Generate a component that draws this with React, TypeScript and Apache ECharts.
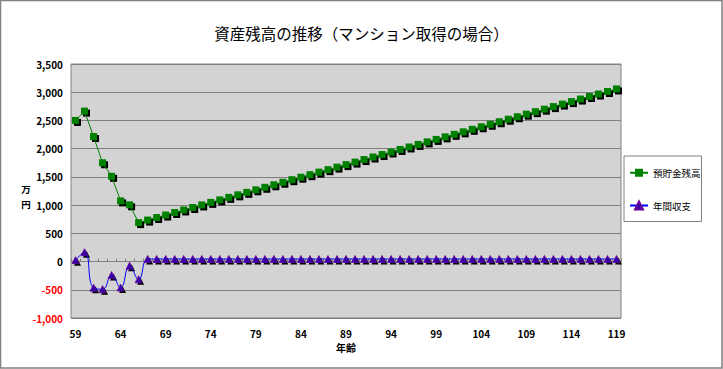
import React, { useEffect, useRef } from "react";
import * as echarts from "echarts";

const ages: string[] = [];
for (let a = 59; a <= 119; a++) ages.push(String(a));

const savingsBalance = [
  2500, 2665, 2215, 1750, 1510, 1075, 1005, 690, 735, 780,
  824, 869, 914, 958, 1003, 1048, 1092, 1137, 1182, 1226,
  1271, 1316, 1360, 1405, 1450, 1494, 1539, 1584, 1628, 1673,
  1718, 1762, 1807, 1852, 1896, 1941, 1986, 2030, 2075, 2120,
  2164, 2209, 2254, 2298, 2343, 2388, 2432, 2477, 2522, 2566,
  2611, 2656, 2700, 2745, 2790, 2834, 2879, 2924, 2968, 3013,
  3058,
];

const annualBalance = [
  25, 165, -465, -490, -240, -460, -75, -315, 45, 45,
  45, 45, 45, 45, 45, 45, 45, 45, 45, 45,
  45, 45, 45, 45, 45, 45, 45, 45, 45, 45,
  45, 45, 45, 45, 45, 45, 45, 45, 45, 45,
  45, 45, 45, 45, 45, 45, 45, 45, 45, 45,
  45, 45, 45, 45, 45, 45, 45, 45, 45, 45,
  45,
];

const titleText = "資産残高の推移（マンション取得の場合）";
const seriesNames = ["預貯金残高", "年間収支"];
const unitChars = ["万", "円"];
const font = "'Noto Sans CJK JP', sans-serif";

export default function App() {
  const ref = useRef<HTMLDivElement>(null);
  useEffect(() => {
    if (!ref.current) return;
    const chart = echarts.init(ref.current, undefined, { renderer: "svg" });
    const shadowSeries = (data: number[], symbol: string, size: number) => ({
      name: "_shadow_" + symbol,
      type: "line",
      xAxisIndex: 0,
      data,
      showAllSymbol: true,
      symbol,
      symbolSize: size,
      symbolOffset: [2, 2],
      lineStyle: { width: 0, opacity: 0 },
      itemStyle: { color: "#000" },
      silent: true,
      z: 2,
    });
    chart.setOption({
      animation: false,
      backgroundColor: "#ffffff",
      textStyle: { fontFamily: font },
      title: {
        text: titleText,
        left: "center",
        top: 20,
        textStyle: { fontSize: 15.5, fontWeight: "normal", color: "#000", fontFamily: font },
      },
      graphic: [
        {
          type: "rect",
          shape: { x: 0.5, y: 0.5, width: 721.5, height: 367.5 },
          style: { fill: "none", stroke: "#808080", lineWidth: 1.5 },
          silent: true,
        },
        {
          type: "text",
          x: 26,
          y: 189,
          style: {
            text: unitChars[0],
            fontSize: 9.5,
            fontWeight: "bold",
            fontFamily: font,
            fill: "#000",
            align: "center",
            verticalAlign: "middle",
          },
        },
        {
          type: "text",
          x: 26,
          y: 204,
          style: {
            text: unitChars[1],
            fontSize: 9.5,
            fontWeight: "bold",
            fontFamily: font,
            fill: "#000",
            align: "center",
            verticalAlign: "middle",
          },
        },
      ],
      legend: {
        orient: "vertical",
        left: 624,
        top: 156,
        padding: [12, 1, 11, 5],
        itemGap: 23,
        itemWidth: 18,
        itemHeight: 10,
        borderColor: "#808080",
        borderWidth: 1,
        textStyle: { fontSize: 9.5, color: "#000", fontFamily: font, fontWeight: "normal" },
        data: seriesNames,
      },
      grid: {
        left: 71,
        right: 102,
        top: 64,
        bottom: 51,
        show: true,
        backgroundColor: "#d3d3d3",
        borderColor: "#808080",
        borderWidth: 1,
      },
      xAxis: [
        {
          type: "category",
          data: ages,
          boundaryGap: true,
          position: "bottom",
          name: "年齢",
          nameLocation: "middle",
          nameGap: 22,
          nameTextStyle: { fontSize: 10, fontWeight: "bold", color: "#000", fontFamily: font },
          axisLine: { show: false, onZero: false },
          axisTick: { show: false },
          axisLabel: {
            interval: 4,
            fontSize: 10,
            fontWeight: "bold",
            color: "#000",
            margin: 10,
            fontFamily: font,
          },
          splitLine: { show: false },
        },
        {
          type: "category",
          data: ages,
          boundaryGap: true,
          position: "bottom",
          axisLine: { show: true, onZero: true, lineStyle: { color: "#808080", width: 1 } },
          axisTick: { show: true, interval: 0, length: 3, inside: true, lineStyle: { color: "#808080" } },
          axisLabel: { show: false },
          splitLine: { show: false },
        },
      ],
      yAxis: {
        type: "value",
        min: -1000,
        max: 3500,
        interval: 500,
        axisLine: { show: false },
        axisTick: { show: false },
        axisLabel: {
          fontSize: 10,
          fontWeight: "bold",
          margin: 8,
          fontFamily: font,
          formatter: (v: number) => v.toLocaleString("en-US"),
          color: (v: any) => (Number(v) < 0 ? "#ff0000" : "#000000"),
        },
        splitLine: { show: true, lineStyle: { color: "#808080", width: 1 } },
      },
      series: [
        shadowSeries(savingsBalance, "rect", 7),
        shadowSeries(annualBalance, "triangle", 7),
        {
          name: seriesNames[0],
          type: "line",
          xAxisIndex: 0,
          data: savingsBalance,
          showAllSymbol: true,
          symbol: "rect",
          symbolSize: 7,
          lineStyle: { color: "#008000", width: 1 },
          itemStyle: { color: "#008000" },
          z: 3,
        },
        {
          name: seriesNames[1],
          type: "line",
          xAxisIndex: 0,
          data: annualBalance,
          showAllSymbol: true,
          smooth: 0.5,
          symbol: "triangle",
          symbolSize: 7,
          lineStyle: { color: "#0000ff", width: 1 },
          itemStyle: {
            color: "#3300aa",
            borderColor: "#660099",
            borderWidth: 0.8,
          },
          z: 3,
        },
      ],
    });
    return () => chart.dispose();
  }, []);
  return (
    <div
      ref={ref}
      style={{ position: "absolute", left: 0, top: 0, width: 723, height: 369 }}
    />
  );
}
